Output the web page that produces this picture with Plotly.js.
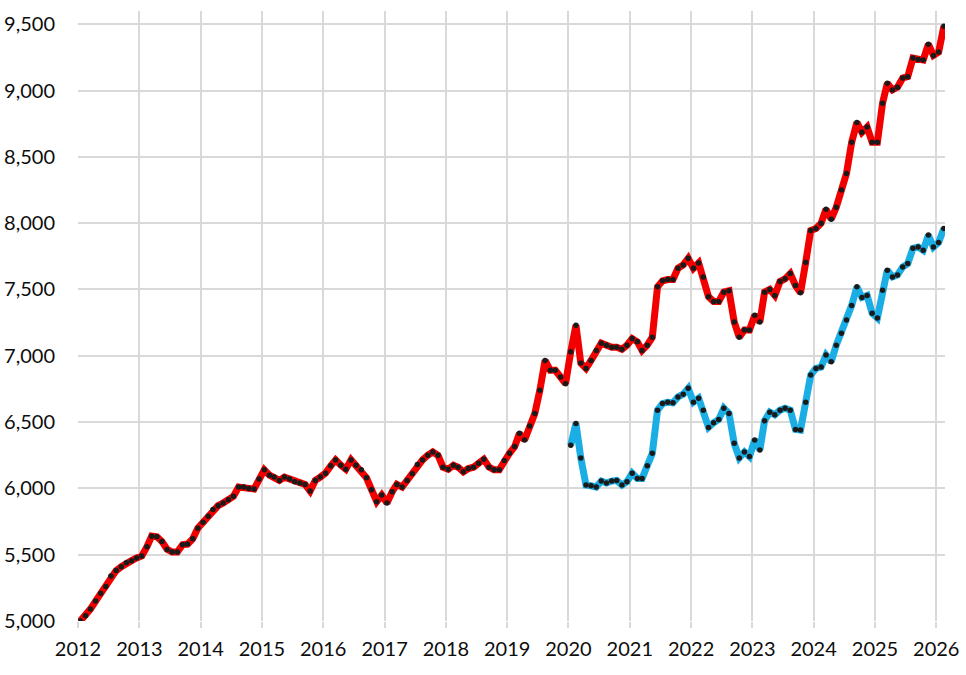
<!DOCTYPE html>
<html>
<head>
<meta charset="utf-8">
<script src="https://cdn.plot.ly/plotly-3.0.1.min.js"></script>
<style>
  html, body { margin: 0; padding: 0; background: #fff; }
  #chart { width: 966px; height: 675px; }
</style>
</head>
<body>
<div id="chart"></div>
<script>
// ---- Data (monthly) ----
const redStart = [2012, 1];
const redValues = [
  // 2012
  5000, 5040, 5090, 5150, 5210, 5260, 5340, 5380, 5410, 5440, 5455, 5475,
  // 2013
  5490, 5560, 5640, 5635, 5600, 5540, 5520, 5520, 5575, 5580, 5620, 5700,
  // 2014
  5745, 5790, 5840, 5870, 5890, 5915, 5940, 6010, 6010, 6000, 5995, 6070,
  // 2015
  6140, 6100, 6085, 6060, 6085, 6070, 6050, 6040, 6030, 5980, 6060, 6085,
  // 2016
  6115, 6170, 6215, 6175, 6145, 6215, 6175, 6140, 6080, 5990, 5900, 5950,
  // 2017
  5890, 5975, 6030, 6010, 6060, 6110, 6180, 6215, 6250, 6275, 6250, 6160,
  // 2018
  6145, 6175, 6160, 6125, 6150, 6160, 6190, 6220, 6160, 6140, 6140, 6210,
  // 2019
  6265, 6315, 6415, 6365, 6470, 6565, 6740, 6965, 6890, 6890, 6840, 6790,
  // 2020
  7030, 7230, 6945, 6905, 6965, 7040, 7095, 7080, 7065, 7065, 7050, 7080,
  // 2021
  7130, 7105, 7040, 7080, 7140, 7520, 7565, 7575, 7575, 7660, 7685, 7735,
  // 2022
  7660, 7700, 7595, 7445, 7410, 7410, 7480, 7490, 7255, 7140, 7195, 7195,
  // 2023
  7305, 7255, 7480, 7500, 7455, 7560, 7580, 7620, 7530, 7475, 7705, 7945,
  // 2024
  7960, 8000, 8105, 8030, 8120, 8250, 8375, 8610, 8760, 8685, 8725, 8610,
  // 2025
  8610, 8905, 9055, 9005, 9025, 9095, 9105, 9245, 9235, 9230, 9350, 9265,
  // 2026
  9290, 9485
];

const blueStart = [2020, 1];
const blueValues = [
  // 2020
  6325, 6490, 6230, 6025, 6020, 6010, 6055, 6040, 6055, 6060, 6025, 6050,
  // 2021
  6115, 6075, 6075, 6170, 6265, 6590, 6640, 6650, 6645, 6690, 6710, 6755,
  // 2022
  6650, 6680, 6590, 6460, 6495, 6520, 6605, 6565, 6340, 6230, 6275, 6240,
  // 2023
  6365, 6290, 6510, 6575, 6555, 6590, 6605, 6590, 6445, 6440, 6650, 6855,
  // 2024
  6905, 6915, 7005, 6955, 7080, 7170, 7270, 7380, 7520, 7440, 7455, 7320,
  // 2025
  7285, 7495, 7645, 7595, 7610, 7670, 7695, 7810, 7820, 7795, 7910, 7820,
  // 2026
  7855, 7960
];

const yTicks = [5000, 5500, 6000, 6500, 7000, 7500, 8000, 8500, 9000, 9500];
const xTickYears = [2012, 2013, 2014, 2015, 2016, 2017, 2018, 2019, 2020,
                    2021, 2022, 2023, 2024, 2025, 2026];

// ---- Helper: mid-month date labels from a start month ----
function monthDates(start, count) {
  const out = [];
  let y = start[0], m = start[1];
  for (let i = 0; i < count; i++) {
    out.push(`${y}-${String(m).padStart(2, '0')}-15`);
    m++;
    if (m > 12) { m = 1; y++; }
  }
  return out;
}

const GRID = '#d9d9d9';
const FONT = { family: 'Lato, "Open Sans", sans-serif', size: 20, color: '#0d0d0d' };

const traces = [
  {
    type: 'scatter',
    mode: 'lines+markers',
    x: monthDates(redStart, redValues.length),
    y: redValues,
    line: { color: '#f20000', width: 7 },
    marker: { color: '#1a1a1a', size: 5.5 },
    hoverinfo: 'x+y'
  },
  {
    type: 'scatter',
    mode: 'lines+markers',
    x: monthDates(blueStart, blueValues.length),
    y: blueValues,
    line: { color: '#1aaee5', width: 7 },
    marker: { color: '#1a1a1a', size: 5.5 },
    hoverinfo: 'x+y'
  }
];

const layout = {
  width: 966,
  height: 675,
  margin: { l: 78, r: 21, t: 11, b: 54 },
  paper_bgcolor: '#fff',
  plot_bgcolor: '#fff',
  showlegend: false,
  font: FONT,
  xaxis: {
    type: 'date',
    range: ['2012-01-01', '2026-02-22'],
    tickvals: xTickYears.map(yr => `${yr}-01-01`),
    ticktext: xTickYears.map(String),
    showgrid: true,
    gridcolor: GRID,
    gridwidth: 2,
    zeroline: false,
    showline: false,
    ticks: 'outside',
    ticklen: 6,
    tickwidth: 2,
    tickcolor: GRID,
    ticklabelstandoff: 4,
    tickfont: FONT
  },
  yaxis: {
    range: [5000, 9600],
    tickvals: yTicks,
    tickformat: ',d',
    showgrid: true,
    gridcolor: GRID,
    gridwidth: 2,
    zeroline: false,
    showline: false,
    ticks: 'outside',
    ticklen: 18,
    tickcolor: 'rgba(0,0,0,0)',
    tickfont: FONT
  }
};

Plotly.newPlot('chart', traces, layout, { staticPlot: true, displayModeBar: false });
</script>
</body>
</html>
